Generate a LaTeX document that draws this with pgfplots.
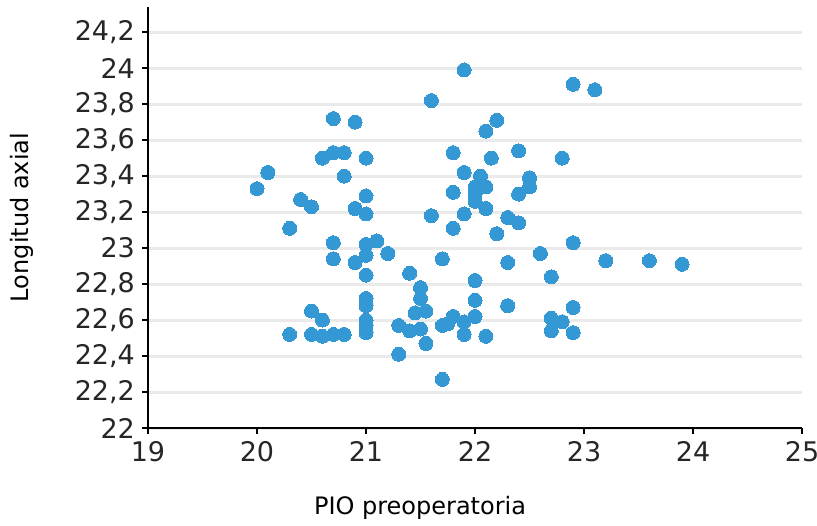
\documentclass[border=0pt]{standalone}
\usepackage{pgfplots}
\pgfplotsset{compat=1.18}
\usepackage{fontspec}
\setmainfont{DejaVu Sans}
\definecolor{ptblue}{RGB}{52,152,212}
\definecolor{gridgray}{RGB}{234,234,234}
\begin{document}
\begin{tikzpicture}
\begin{axis}[
  scale only axis,
  width=327pt, height=210.5pt,
  xmin=19, xmax=25, ymin=22, ymax=24.34,
  axis lines*=left,
  axis line style={line width=1.2pt, black, -},
  xtick={19,20,21,22,23,24,25},
  ytick={22,22.2,22.4,22.6,22.8,23,23.2,23.4,23.6,23.8,24,24.2},
  yticklabels={22,{22,2},{22,4},{22,6},{22,8},23,{23,2},{23,4},{23,6},{23,8},24,{24,2}},
  tick align=outside,
  major tick length=3pt,
  tick style={line width=1.2pt, black},
  ymajorgrids,
  grid style={line width=1.5pt, gridgray},
  /pgf/number format/assume math mode=true,
  ticklabel style={font=\fontsize{13.5}{15}\selectfont, color=black!85},
  xlabel={PIO preoperatoria},
  ylabel={Longitud axial},
  label style={font=\fontsize{12}{14}\selectfont, color=black},
  xlabel style={at={(axis description cs:0.416,-0.19)}, anchor=center},
  ylabel style={at={(axis description cs:-0.193,0.5)}, anchor=center, rotate=0},
  clip=false,
]
\addplot[only marks, mark=*, mark size=3.5pt, color=ptblue, mark options={fill=ptblue, draw=ptblue, line width=0pt}] coordinates {
(20.0,23.33) (20.1,23.42) (20.4,23.27) (20.5,23.23) (20.3,23.11)
(20.7,23.72) (20.9,23.70) (20.6,23.50) (20.7,23.53) (20.8,23.53)
(21.0,23.50) (20.8,23.40) (21.0,23.29) (20.9,23.22) (21.0,23.19)
(20.7,23.03) (21.0,23.02) (21.1,23.04) (21.2,22.97) (20.7,22.94)
(20.9,22.92) (21.0,22.96) (21.4,22.86) (21.0,22.85) (21.0,22.72)
(21.0,22.68) (21.0,22.60) (21.0,22.57) (21.0,22.53) (20.5,22.65)
(20.6,22.60) (20.3,22.52) (20.5,22.52) (20.6,22.51) (20.7,22.52)
(20.8,22.52) (21.7,22.94) (22.3,22.92) (22.6,22.97) (22.0,22.82)
(21.5,22.78) (21.5,22.72) (22.0,22.71) (22.3,22.68) (21.45,22.64)
(21.55,22.65) (21.3,22.57) (21.4,22.54) (21.5,22.55) (21.55,22.47)
(21.3,22.41) (21.7,22.57) (21.8,22.62) (21.9,22.59) (21.9,22.52)
(22.0,22.62) (22.1,22.51) (21.7,22.27) (22.7,22.84) (23.2,22.93)
(23.6,22.93) (23.9,22.91) (22.9,22.67) (22.7,22.61) (22.8,22.59)
(22.7,22.54) (22.9,22.53) (22.9,23.03) (21.9,23.99) (21.6,23.82)
(22.2,23.71) (22.1,23.65) (21.8,23.53) (22.15,23.50) (22.4,23.54)
(21.9,23.42) (22.05,23.40) (22.0,23.34) (22.1,23.34) (21.8,23.31)
(22.0,23.30) (22.0,23.26) (22.1,23.22) (21.9,23.19) (22.5,23.39)
(22.5,23.34) (22.4,23.30) (21.6,23.18) (21.8,23.11) (22.3,23.17)
(22.4,23.14) (22.2,23.08) (22.8,23.50) (22.9,23.91) (23.1,23.88)
(21.75,22.58)
};
\end{axis}
\pgfresetboundingbox
\useasboundingbox ([xshift=-74pt,yshift=-48.5pt]current axis.south west) rectangle ++(408.5pt,262.5pt);
\end{tikzpicture}
\end{document}
